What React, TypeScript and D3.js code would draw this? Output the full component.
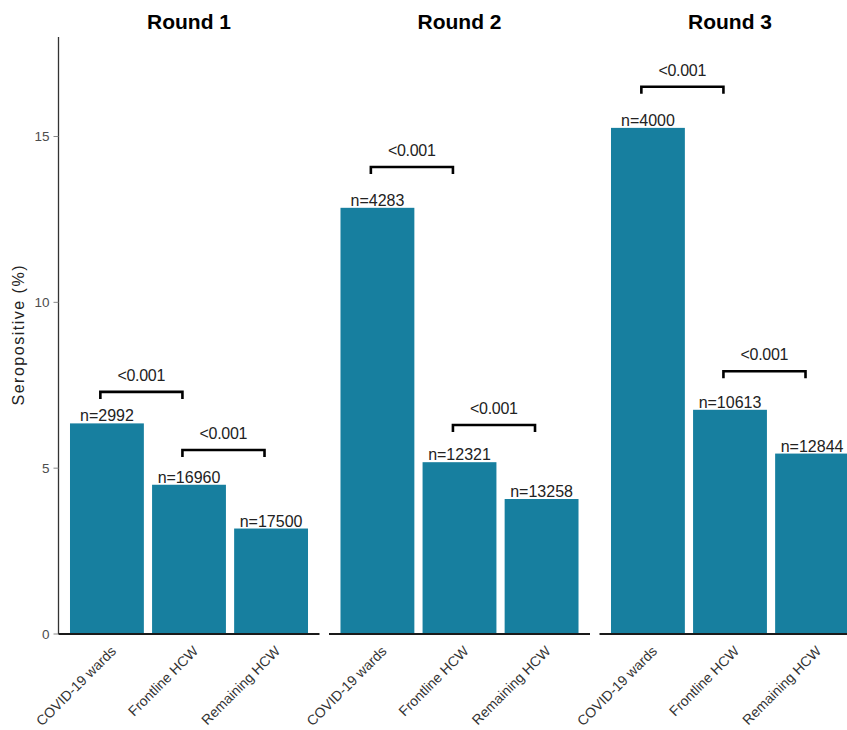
import React from "react";
import * as d3 from "d3";

const rounds = ["Round 1", "Round 2", "Round 3"];
const groups = ["COVID-19 wards", "Frontline HCW", "Remaining HCW"];
const seroRound1 = [6.35, 4.5, 3.18];
const seroRound2 = [12.85, 5.18, 4.07];
const seroRound3 = [15.26, 6.76, 5.44];
const nRound1 = [2992, 16960, 17500];
const nRound2 = [4283, 12321, 13258];
const nRound3 = [4000, 10613, 12844];
const yTicks = [0, 5, 10, 15];
const pLabel = "<0.001";
// bracket annotations: [fromGroup, toGroup, height in %]
const bracketsRound1: [number, number, number][] = [[0, 1, 7.3], [1, 2, 5.55]];
const bracketsRound2: [number, number, number][] = [[0, 1, 14.08], [1, 2, 6.3]];
const bracketsRound3: [number, number, number][] = [[0, 1, 16.5], [1, 2, 7.92]];

const sero = [seroRound1, seroRound2, seroRound3];
const ns = [nRound1, nRound2, nRound3];
const brackets = [bracketsRound1, bracketsRound2, bracketsRound3];

const W = 847;
const H = 730;
const FONT = "'Liberation Sans', Arial, Helvetica, sans-serif";
const BAR = "#177f9f";

export default function App() {
  const y = d3.scaleLinear().domain([0, 18]).range([634, 37]);
  const panelLeft = 58.5;
  const panelW = 261;
  const panelStride = 270.5;

  return (
    <svg
      width={W}
      height={H}
      style={{ position: "absolute", left: 0, top: 0, background: "#fff", overflow: "hidden" }}
      fontFamily={FONT}
    >
      <rect x={0} y={0} width={W} height={H} fill="#fff" />
      {/* y axis label */}
      <text
        transform={`translate(24,${(y(0) + y(18)) / 2}) rotate(-90)`}
        textAnchor="middle"
        fontSize={16}
        fill="#222"
        textLength={140}
        lengthAdjust="spacing"
      >
        Seropositive (%)
      </text>
      {/* y axis */}
      <line x1={panelLeft} x2={panelLeft} y1={y(18)} y2={y(0)} stroke="#333" strokeWidth={1.3} />
      {yTicks.map((t) => (
        <g key={t}>
          <line x1={panelLeft - 5} x2={panelLeft} y1={y(t)} y2={y(t)} stroke="#888" strokeWidth={1} />
          <text x={panelLeft - 9} y={y(t)} dy="0.35em" textAnchor="end" fontSize={13.5} fill="#4d4d4d">
            {t}
          </text>
        </g>
      ))}
      {rounds.map((r, ri) => {
        const x0 = panelLeft + ri * panelStride;
        const x = d3
          .scaleBand<string>()
          .domain(groups)
          .range([x0, x0 + panelW])
          .paddingInner(0.1)
          .paddingOuter(0.14);
        const bw = x.bandwidth();
        const cx = (g: string) => (x(g) as number) + bw / 2;
        const shift = -0.08 * x.step();
        return (
          <g key={r}>
            <text
              x={x0 + panelW / 2}
              y={29}
              textAnchor="middle"
              fontSize={21}
              fontWeight="bold"
              fill="#000"
            >
              {r}
            </text>
            {groups.map((g, gi) => (
              <g key={g}>
                <rect
                  x={x(g)}
                  y={y(sero[ri][gi])}
                  width={bw}
                  height={y(0) - y(sero[ri][gi])}
                  fill={BAR}
                />
                <text
                  x={cx(g)}
                  y={y(sero[ri][gi]) - 2}
                  textAnchor="middle"
                  fontSize={16}
                  fill="#222"
                >
                  {`n=${ns[ri][gi]}`}
                </text>
                <text
                  transform={`translate(${cx(g) + 10},652) rotate(-45)`}
                  textAnchor="end"
                  fontSize={14}
                  fill="#333"
                >
                  {g}
                </text>
              </g>
            ))}
            <line x1={x0} x2={x0 + panelW} y1={y(0)} y2={y(0)} stroke="#1a1a1a" strokeWidth={2} />
            {brackets[ri].map(([a, b, h], bi) => {
              const xa = cx(groups[a]) + shift;
              const xb = cx(groups[b]) + shift;
              const yy = y(h);
              return (
                <g key={bi}>
                  <path
                    d={`M${xa},${yy + 7} L${xa},${yy} L${xb},${yy} L${xb},${yy + 7}`}
                    fill="none"
                    stroke="#000"
                    strokeWidth={2.6}
                  />
                  <text
                    x={(xa + xb) / 2}
                    y={yy - 11}
                    textAnchor="middle"
                    fontSize={16}
                    fill="#222"
                    textLength={48}
                    lengthAdjust="spacing"
                  >
                    {pLabel}
                  </text>
                </g>
              );
            })}
          </g>
        );
      })}
    </svg>
  );
}
